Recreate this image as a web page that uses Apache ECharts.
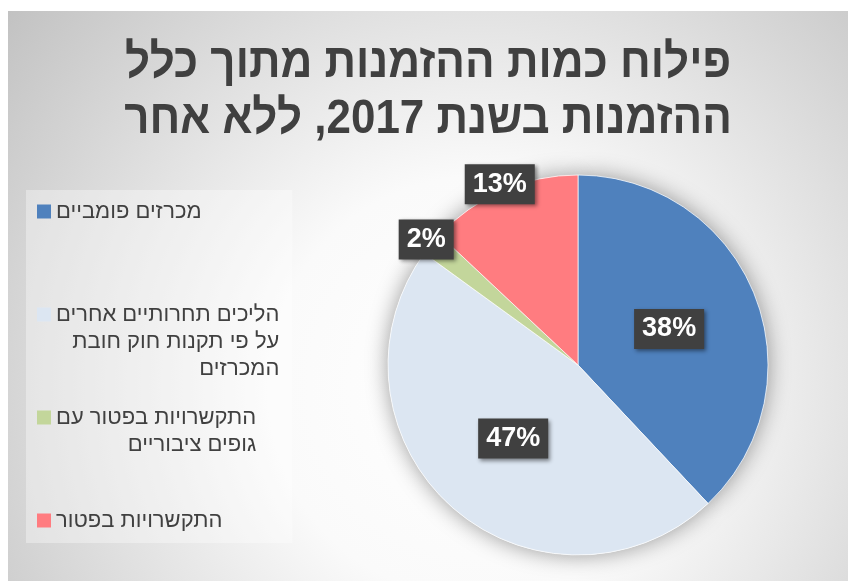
<!DOCTYPE html>
<html><head><meta charset="utf-8">
<script src="https://cdn.jsdelivr.net/npm/echarts@6/dist/echarts.min.js"></script>
<style>
html,body{margin:0;padding:0;background:#fff;}
#chart{position:absolute;left:8px;top:11px;width:840px;height:570px;
background:radial-gradient(circle at 56% 66%, #ffffff 0%, #fafafa 35%, #c2c2c2 100%);}
</style></head><body><div id="chart"></div>
<script>
const titleLines = ['פילוח כמות ההזמנות מתוך כלל', 'ההזמנות בשנת 2017, ללא אחר'];
const categories = ['מכרזים פומביים', 'הליכים תחרותיים אחרים על פי תקנות חוק חובת המכרזים', 'התקשרויות בפטור עם גופים ציבוריים', 'התקשרויות בפטור'];
const legendLines = [
  ['מכרזים פומביים'],
  ['הליכים תחרותיים אחרים', 'על פי תקנות חוק חובת', 'המכרזים'],
  ['התקשרויות בפטור עם', 'גופים ציבוריים'],
  ['התקשרויות בפטור']
];
const values = [38, 47, 2, 13];
const colors = ['#4f81bd', '#dce6f2', '#c3d69b', '#ff7c80'];
const edgeLabel = [false, false, true, true];

const FONT = '"Liberation Sans", Arial, sans-serif';
const LH = 27, SLOT = 103;
const rich = {
  r: {align: 'right', fontSize: 22, lineHeight: LH, color: '#404040', fontFamily: FONT},
  g: {align: 'left', width: 5}
};
colors.forEach((c, i) => { rich['sq' + i] = {align: 'left', width: 14, height: 14, backgroundColor: c}; });

const labelStyle = {
  formatter: '{d}%', color: '#fff', fontSize: 27, fontWeight: 'bold', fontFamily: FONT,
  backgroundColor: '#404040', padding: [4, 8, 4, 8], lineHeight: 32,
  shadowBlur: 4, shadowOffsetX: 2, shadowOffsetY: 2, shadowColor: 'rgba(0,0,0,0.45)'
};
const CENTER = [570, 354], R = 190;

const chart = echarts.init(document.getElementById('chart'));
chart.setOption({
  animation: false,
  backgroundColor: 'transparent',
  graphic: [{
    type: 'text', left: 'center', top: 25, scaleX: 0.915, silent: true,
    style: {
      text: titleLines.join('\n'), textAlign: 'center', fill: '#404040',
      font: 'bold 48px ' + FONT, lineHeight: 56
    }
  }],
  legend: {
    orient: 'vertical', left: 18, top: 179, padding: [8, 13, 9, 6], itemGap: 0,
    itemWidth: 0, itemHeight: 0, textGap: 0, icon: 'rect',
    backgroundColor: 'rgba(255,255,255,0.35)',
    textStyle: {rich: rich},
    data: categories.map((n, i) => ({
      name: n,
      textStyle: {
        padding: [0, 0, i === categories.length - 1 ? 0 : SLOT - legendLines[i].length * LH, 0],
        backgroundColor: 'rgba(0,0,0,0)'
      }
    })),
    formatter: name => {
      const i = categories.indexOf(name);
      return legendLines[i].map((l, k) => (k === 0 ? '{sq' + i + '|}{g|}' : '') + '{r|' + l + '}').join('\n');
    }
  },
  series: [
    {
      type: 'pie', silent: true, center: CENTER, radius: R,
      label: {show: false}, labelLine: {show: false},
      itemStyle: {color: '#ffffff', shadowBlur: 22, shadowColor: 'rgba(0,0,0,0.4)'},
      data: values.map((v, i) => ({name: categories[i], value: v}))
    },
    {
      type: 'pie', center: CENTER, radius: R,
      itemStyle: {borderColor: 'rgba(255,255,255,0.7)', borderWidth: 1},
      label: Object.assign({position: 'inside'}, labelStyle),
      labelLine: {show: false},
      emphasis: {disabled: true},
      data: values.map((v, i) => ({name: categories[i], value: v, itemStyle: {color: colors[i]}, label: {show: !edgeLabel[i]}}))
    },
    {
      type: 'pie', silent: true, center: CENTER, radius: [R - 2, R + 10],
      itemStyle: {color: 'rgba(0,0,0,0)'},
      label: Object.assign({position: 'inside'}, labelStyle),
      labelLine: {show: false},
      emphasis: {disabled: true},
      data: values.map((v, i) => ({name: categories[i], value: v, label: {show: edgeLabel[i]}}))
    }
  ]
});
</script></body></html>
